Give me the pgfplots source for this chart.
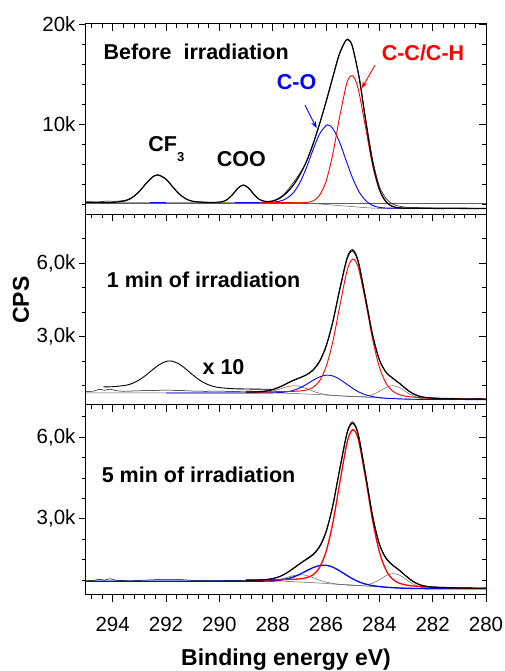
\documentclass[border=0pt]{standalone}
\usepackage{fontspec}
\setmainfont{Liberation Sans}
\usepackage{pgfplots}
\pgfplotsset{compat=1.18}
\usetikzlibrary{arrows.meta}
\definecolor{cred}{RGB}{255,0,0}
\definecolor{cblue}{RGB}{0,0,255}
\definecolor{cgray}{RGB}{95,95,95}
\newcommand{\lab}{\fontsize{21.5}{25}\selectfont\bfseries}
\begin{document}
\begin{tikzpicture}
\pgfplotsset{
  base/.style={scale only axis, width=400pt, height=190pt,
    xmin=280, xmax=295, x dir=reverse, anchor=north west,
    xtick={280,282,...,294}, minor xtick={280.4,280.8,...,294.8},
    major tick length=7pt, minor tick length=4pt,
    tick style={black, line width=0.8pt},
    axis line style={black, line width=1pt},
    every tick label/.append style={font=\fontsize{20.5}{24}\selectfont},
  },
  inner/.style={base, tick align=inside, xtick pos=right, ytick pos=right,
    xticklabels={,,}, yticklabels={,,}},
  outer/.style={base, tick align=outside, xtick pos=left, ytick pos=left},
  env/.style={black, line width=1.2pt, smooth, tension=0.5},
  raw/.style={black, line width=0.5pt, smooth, tension=0.5},
  comp/.style={cgray, line width=0.5pt, smooth, tension=0.5},
  bgl/.style={cgray, line width=0.5pt},
}
% ---------------- Panel 1 ----------------
\begin{axis}[inner, at={(86pt,-24pt)}, ymin=1, ymax=20,
  ytick={10,20}, minor ytick={2,4,6,8,12,14,16,18}]
\addplot[bgl] coordinates {(295,2.03)(280,2.03)};
\addplot[bgl, smooth] coordinates {(295,2.15)(287.5,2.14)(287,2.12)(286.5,2.05)(286,1.95)(285.5,1.84)(285,1.74)(284.5,1.63)(284,1.57)(283,1.56)(280,1.55)};
\addplot[cblue, line width=0.9pt] coordinates {(292.6,2.15)(292.0,2.15)};
\addplot[cblue, line width=0.9pt] coordinates {(289.4,2.15)(288.6,2.15)};
\addplot[cblue, line width=0.9pt, smooth, tension=0.5] coordinates {(288.6,2.15)(288.25,2.16)(288,2.19)(287.75,2.27)(287.5,2.52)(287.25,3.05)(287,4.03)(286.75,5.52)(286.5,7.32)(286.25,8.96)(286,9.84)(285.9,9.88)(285.75,9.57)(285.5,8.25)(285.25,6.39)(285,4.57)(284.75,3.18)(284.5,2.31)(284.25,1.85)(284,1.66)(283.75,1.60)(283.5,1.58)(283,1.58)(282,1.565)(280,1.55)};
\addplot[cred, line width=0.9pt, smooth, tension=0.5] coordinates {(288.5,2.15)(288.25,2.15)(288,2.15)(287.75,2.14)(287.5,2.14)(287.25,2.13)(287,2.13)(286.75,2.145)(286.5,2.29)(286.25,2.84)(286,4.25)(285.75,6.92)(285.5,10.55)(285.25,13.77)(285.125,14.65)(285,14.82)(284.875,14.24)(284.75,13.01)(284.5,9.42)(284.25,5.84)(284,3.41)(283.75,2.20)(283.5,1.74)(283.25,1.61)(283,1.58)(282.5,1.57)(282,1.565)(281,1.56)(280,1.55)};
\addplot[raw] coordinates {(295,2.20)(294.5,2.22)(294.2,2.30)(294,2.27)(293.75,2.30)(293.5,2.40)(293.25,2.70)(293,3.28)(292.75,4.05)(292.5,4.72)(292.3,4.93)(292,4.50)(291.75,3.70)(291.5,2.98)(291.25,2.52)(291,2.28)(290.5,2.18)(290,2.19)(289.75,2.38)(289.5,2.96)(289.3,3.60)(289.1,3.88)(288.9,3.56)(288.7,2.94)(288.5,2.45)(288.25,2.25)(288,2.32)(287.75,2.62)(287.5,3.20)(287.25,4.05)(287,5.00)(286.75,6.10)(286.5,7.85)(286.25,9.95)(286,12.25)(285.75,14.70)(285.5,17.05)(285.25,18.42)(285.125,18.40)(285,17.72)(284.75,14.65)(284.5,10.35)(284.25,6.45)(284,3.80)(283.75,2.55)(283.5,2.00)(283.25,1.78)(283,1.68)(282.5,1.62)(282,1.60)(281.5,1.58)(281,1.58)(280.5,1.57)(280,1.56)};
\addplot[env] coordinates {(295,2.17)(294.5,2.16)(294,2.16)(293.5,2.34)(293.25,2.67)(293,3.26)(292.75,4.04)(292.5,4.70)(292.3,4.90)(292,4.48)(291.75,3.72)(291.5,2.99)(291.25,2.51)(291,2.27)(290.5,2.16)(290,2.18)(289.75,2.37)(289.5,2.95)(289.3,3.59)(289.1,3.90)(288.9,3.59)(288.7,2.96)(288.5,2.46)(288.25,2.24)(288,2.30)(287.75,2.55)(287.5,3.06)(287.25,3.80)(287,4.82)(286.75,6.16)(286.5,7.89)(286.25,9.93)(286,12.18)(285.75,14.61)(285.5,16.96)(285.25,18.37)(285.125,18.33)(285,17.65)(284.75,14.51)(284.5,10.10)(284.25,6.11)(284,3.50)(283.75,2.23)(283.5,1.75)(283.25,1.61)(283,1.58)(282.5,1.57)(282,1.56)(281,1.56)(280,1.55)};
\node[anchor=base west, font=\lab] at (axis cs:294.475,16.47) {Before\ \ irradiation};
\node[anchor=base west, font=\lab] at (axis cs:292.79,7.23) {CF\raisebox{-10pt}{\fontsize{13}{13}\selectfont 3}};
\node[anchor=base west, font=\lab] at (axis cs:290.225,5.73) {COO};
\node[anchor=base west, font=\lab, text=cblue] at (axis cs:287.975,13.4) {C-O};
\node[anchor=base west, font=\lab, text=cred] at (axis cs:284.04,16.3) {C-C/C-H};
\draw[cblue, line width=0.9pt, -{Stealth[length=7pt,width=5pt]}] (axis cs:286.79,11.9) -- (axis cs:286.35,9.57);
\draw[cred, line width=0.9pt, -{Stealth[length=7pt,width=5pt]}] (axis cs:284.16,15.9) -- (axis cs:284.66,13.57);
\end{axis}
\begin{axis}[outer, at={(86pt,-24pt)}, ymin=1, ymax=20,
  ytick={10,20}, yticklabels={10k,20k}, minor ytick={2,4,6,8,12,14,16,18}, xticklabels={,,}]
\addplot[draw=none] coordinates {(285,5)};
\end{axis}
% ---------------- Panel 2 ----------------
\begin{axis}[inner, at={(86pt,-214pt)}, ymin=0.25, ymax=8.01,
  ytick={3,6}, minor ytick={1,2,4,5,7}]
\addplot[bgl, smooth] coordinates {(295,0.70)(288,0.70)(287.5,0.69)(287,0.67)(286.5,0.645)(286,0.615)(285.5,0.585)(285,0.555)(284.5,0.525)(284,0.495)(283.5,0.47)(283,0.45)(282.5,0.44)(282,0.435)(280,0.43)};
\addplot[comp] coordinates {(289,0.70)(288.5,0.709)(288.25,0.73)(288,0.778)(287.75,0.855)(287.5,0.944)(287.25,0.995)(287,0.974)(286.75,0.889)(286.5,0.779)(286.25,0.691)(286,0.637)(285.75,0.606)(285.5,0.585)(285,0.555)};
\addplot[comp] coordinates {(285.25,0.57)(285,0.557)(284.75,0.55)(284.5,0.566)(284.25,0.633)(284,0.767)(283.75,0.923)(283.5,0.999)(283.25,0.925)(283,0.75)(282.75,0.587)(282.5,0.49)(282.25,0.45)(282,0.437)(281.5,0.432)};
\addplot[cblue, line width=0.9pt, smooth, tension=0.5] coordinates {(292,0.70)(288.5,0.70)(288,0.707)(287.75,0.716)(287.5,0.743)(287.25,0.798)(287,0.897)(286.75,1.042)(286.5,1.208)(286.25,1.354)(286,1.428)(285.75,1.398)(285.5,1.269)(285.25,1.082)(285,0.890)(284.75,0.731)(284.5,0.621)(284.25,0.552)(284,0.511)(283.75,0.485)(283.5,0.471)(283,0.45)(282.5,0.44)(282,0.435)(280,0.43)};
\addplot[cred, line width=0.9pt, smooth, tension=0.5] coordinates {(289,0.735)(288.5,0.737)(288,0.750)(287.5,0.760)(287.25,0.766)(287,0.781)(286.75,0.820)(286.5,0.920)(286.25,1.182)(286,1.756)(285.75,2.768)(285.5,4.156)(285.25,5.518)(285.125,5.977)(285,6.172)(284.875,6.059)(284.75,5.661)(284.5,4.333)(284.25,2.883)(284,1.768)(283.75,1.102)(283.5,0.775)(283.25,0.632)(283,0.567)(282.75,0.533)(282.5,0.512)(282,0.486)(281,0.459)(280,0.449)};
\addplot[raw] coordinates {(295,0.76)(294.7,0.78)(294.5,0.85)(294.3,0.81)(294.1,0.86)(293.9,0.80)(293.6,0.77)(293.3,0.78)(293,0.79)(292.5,0.80)(292,0.82)(291.5,0.80)(291,0.78)(290.5,0.77)(290,0.78)(289.5,0.76)(289,0.78)(288.75,0.77)(288.5,0.77)(288.25,0.79)(288,0.85)(287.75,0.95)(287.5,1.08)(287.25,1.22)(287,1.32)(286.75,1.44)(286.5,1.64)(286.25,2.00)(286,2.63)(285.75,3.62)(285.5,4.90)(285.25,6.09)(285.125,6.46)(285,6.57)(284.875,6.39)(284.75,5.93)(284.5,4.53)(284.25,3.09)(284,2.08)(283.75,1.56)(283.5,1.31)(283.25,1.10)(283,0.88)(282.75,0.69)(282.5,0.58)(282.25,0.52)(282,0.50)(281.5,0.47)(281.25,0.49)(281,0.46)(280.5,0.46)(280.25,0.47)(280,0.45)};
\addplot[env] coordinates {(289,0.74)(288.5,0.747)(288.25,0.777)(288,0.835)(287.75,0.936)(287.5,1.067)(287.25,1.199)(287,1.312)(286.75,1.431)(286.5,1.617)(286.25,1.967)(286,2.591)(285.75,3.572)(285.5,4.840)(285.25,6.030)(285.125,6.398)(285,6.509)(284.875,6.320)(284.75,5.862)(284.5,4.470)(284.25,3.048)(284,2.056)(283.75,1.550)(283.5,1.304)(283.25,1.097)(283,0.867)(282.75,0.675)(282.5,0.562)(282.25,0.511)(282,0.488)(281.5,0.472)(281,0.459)(280.5,0.454)(280,0.449)};
\addplot[black, line width=0.9pt, smooth, tension=0.5] coordinates {(294.35,0.953)(294,0.957)(293.5,1.016)(293.25,1.098)(293,1.235)(292.75,1.428)(292.5,1.652)(292.25,1.858)(292,1.987)(291.85,2.009)(291.75,1.996)(291.5,1.880)(291.25,1.676)(291,1.443)(290.75,1.233)(290.5,1.077)(290.25,0.976)(290,0.920)(289.5,0.876)(289,0.863)(288.5,0.855)(288.05,0.85)};
\node[anchor=base west, font=\lab] at (axis cs:294.35,5.02) {1 min of irradiation};
\node[anchor=base west, font=\lab] at (axis cs:290.76,1.435) {x 10};
\end{axis}
\begin{axis}[outer, at={(86pt,-214pt)}, ymin=0.25, ymax=8.01,
  ytick={3,6}, yticklabels={{3,0k},{6,0k}}, minor ytick={1,2,4,5,7}, xticklabels={,,}]
\addplot[draw=none] coordinates {(285,3)};
\end{axis}
% ---------------- Panel 3 ----------------
\begin{axis}[inner, at={(86pt,-404.5pt)}, ymin=0.22, ymax=7.2,
  ytick={3,6}, minor ytick={0.75,1.5,2.25,3.75,4.5,5.25,6.75}]
\addplot[bgl, smooth] coordinates {(295,0.71)(288,0.71)(287.5,0.70)(287,0.68)(286.5,0.655)(286,0.625)(285.5,0.59)(285,0.56)(284.5,0.53)(284,0.50)(283.5,0.47)(283,0.45)(282.5,0.44)(282,0.435)(280,0.43)};
\addplot[comp] coordinates {(289,0.71)(288.5,0.712)(288.25,0.718)(288,0.736)(287.75,0.773)(287.5,0.838)(287.25,0.907)(287,0.947)(286.75,0.925)(286.5,0.845)(286.25,0.750)(286,0.675)(285.75,0.627)(285.5,0.595)(285.25,0.575)(285,0.56)};
\addplot[comp] coordinates {(285.25,0.575)(285,0.562)(284.75,0.556)(284.5,0.573)(284.25,0.637)(284,0.762)(283.75,0.909)(283.5,0.987)(283.25,0.935)(283,0.779)(282.75,0.614)(282.5,0.507)(282.25,0.4575)(282,0.439)(281.5,0.432)};
\addplot[cblue, line width=1.3pt, smooth, tension=0.5] coordinates {(295,0.71)(288.5,0.712)(288,0.726)(287.75,0.745)(287.5,0.786)(287.25,0.853)(287,0.955)(286.75,1.082)(286.5,1.201)(286.25,1.282)(286,1.294)(285.75,1.228)(285.5,1.096)(285.25,0.942)(285,0.796)(284.75,0.680)(284.5,0.598)(284.25,0.545)(284,0.512)(283.75,0.489)(283.5,0.47)(283,0.45)(282.5,0.44)(282,0.435)(280,0.43)};
\addplot[cred, line width=1.3pt, smooth, tension=0.5] coordinates {(289,0.745)(288.5,0.748)(288,0.761)(287.5,0.772)(287.25,0.778)(287,0.793)(286.75,0.833)(286.5,0.935)(286.25,1.202)(286,1.786)(285.75,2.816)(285.5,4.224)(285.25,5.611)(285.125,6.079)(285,6.277)(284.875,6.162)(284.75,5.757)(284.5,4.406)(284.25,2.930)(284,1.796)(283.75,1.118)(283.5,0.781)(283.25,0.635)(283,0.569)(282.75,0.535)(282.5,0.514)(282,0.487)(281,0.460)(280,0.449)};
\addplot[raw] coordinates {(295,0.72)(294.7,0.74)(294.5,0.78)(294.3,0.75)(294.1,0.80)(293.9,0.75)(293.6,0.73)(293.3,0.72)(293,0.74)(292.5,0.76)(292,0.78)(291.5,0.77)(291,0.74)(290.5,0.73)(290,0.72)(289.5,0.74)(289,0.72)(288.75,0.72)(288.5,0.75)(288.25,0.77)(288,0.81)(287.75,0.88)(287.5,1.00)(287.25,1.17)(287,1.35)(286.75,1.52)(286.5,1.70)(286.25,1.99)(286,2.55)(285.75,3.50)(285.5,4.79)(285.25,6.03)(285.125,6.43)(285,6.57)(284.875,6.40)(284.75,5.96)(284.5,4.57)(284.25,3.12)(284,2.10)(283.75,1.57)(283.5,1.31)(283.25,1.12)(283,0.91)(282.75,0.72)(282.5,0.59)(282.25,0.53)(282,0.50)(281.5,0.47)(281,0.46)(280.5,0.45)(280,0.45)};
\addplot[env] coordinates {(289,0.75)(288.5,0.752)(288.25,0.769)(288,0.803)(287.75,0.874)(287.5,0.996)(287.25,1.158)(287,1.335)(286.75,1.500)(286.5,1.671)(286.25,1.954)(286,2.505)(285.75,3.451)(285.5,4.735)(285.25,5.978)(285.125,6.378)(285,6.515)(284.875,6.348)(284.75,5.903)(284.5,4.517)(284.25,3.082)(284,2.070)(283.75,1.546)(283.5,1.298)(283.25,1.110)(283,0.898)(282.75,0.707)(282.5,0.581)(282.25,0.520)(282,0.491)(281.5,0.473)(281,0.460)(280.5,0.455)(280,0.449)};
\node[anchor=base west, font=\lab] at (axis cs:294.54,4.32) {5 min of irradiation};
\end{axis}
\begin{axis}[outer, at={(86pt,-404.5pt)}, ymin=0.22, ymax=7.2,
  ytick={3,6}, yticklabels={{3,0k},{6,0k}}, minor ytick={0.75,1.5,2.25,3.75,4.5,5.25,6.75},
  xticklabels={280,282,284,286,288,290,292,294}, xticklabel style={yshift=-12pt}]
\addplot[draw=none] coordinates {(285,3)};
\end{axis}
\node[rotate=90, font=\fontsize{23}{26}\selectfont\bfseries] at (21pt,-300pt) {CPS};
\node[anchor=base, font=\fontsize{23}{26}\selectfont\bfseries] at (286pt,-665pt) {Binding energy eV)};
\pgfresetboundingbox
\useasboundingbox (0pt,0pt) rectangle (505pt,-671pt);
\end{tikzpicture}
\end{document}
